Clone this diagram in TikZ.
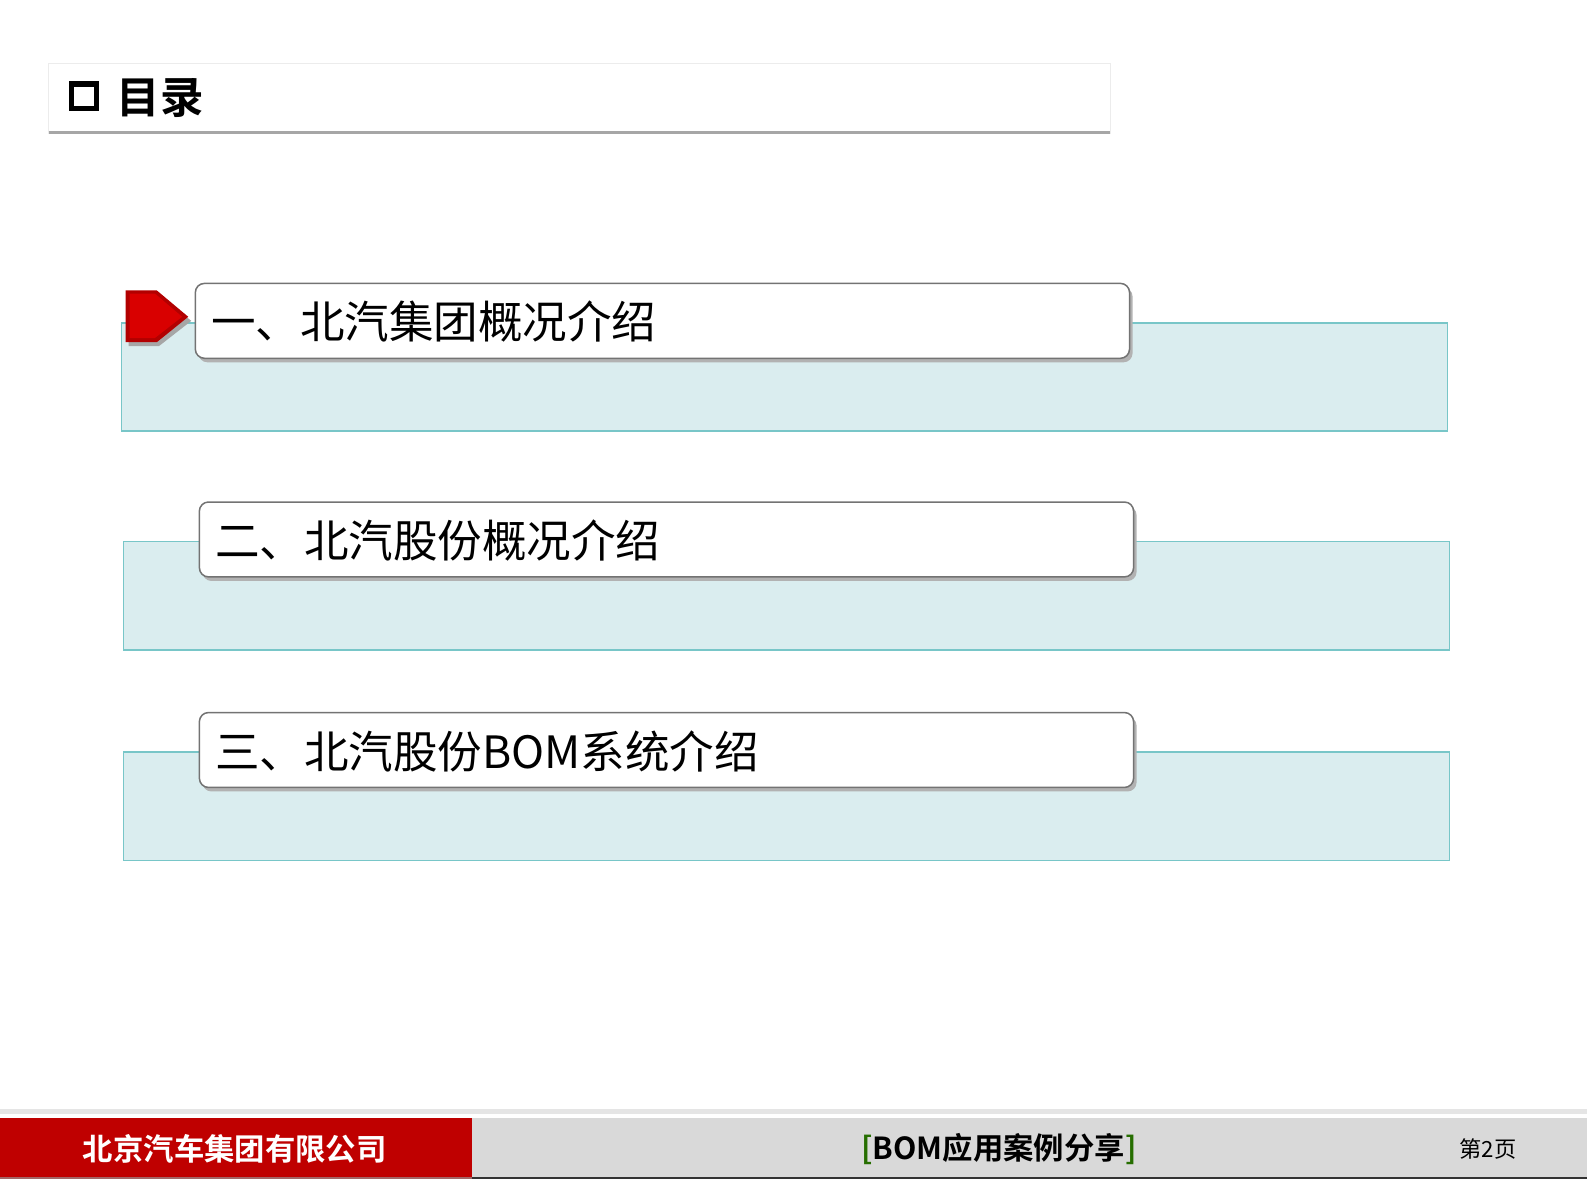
\documentclass[tikz,border=0pt]{standalone}
\usepackage{fontspec}
\setmainfont{Noto Sans CJK SC}
\newfontfamily\cjkb{Noto Sans CJK SC Bold}
\definecolor{tfill}{HTML}{DAEDEF}
\definecolor{tline}{HTML}{78C6C8}
\begin{document}
\begin{tikzpicture}[x=1pt,y=-1pt,
 tealbox/.style={draw=tline, line width=1.5pt, fill=tfill},
 wbox/.style={draw=gray!90!black, line width=1.5pt, fill=white, rounded corners=9pt},
 lbl/.style={anchor=west, font=\fontsize{44}{46}\selectfont}]
\useasboundingbox (0,0) rectangle (1568,1176);
% title
\fill[white] (48,62) rectangle (1097,132);
\draw[gray!15] (48,132) -- (48,62) -- (1097,62) -- (1097,132);
\draw[gray!70, line width=3pt] (48,131) -- (1097,131);
\draw[line width=5pt] (71,83) rectangle (95,107);
\node[anchor=west, font=\cjkb\fontsize{43}{46}\selectfont] (title) at (112,97) {目录};
% items
\foreach \tx/\ty/\wx/\wy/\t/\n in {120/319/193/280/一、北汽集团概况介绍/a, 122/535/197/496/二、北汽股份概况介绍/b, 122/743/197/704/三、北汽股份BOM系统介绍/c}{
 \draw[tealbox] (\tx,\ty) rectangle ++(1310,107);
 \fill[gray!60, rounded corners=9pt] (\wx+3,\wy+4) rectangle ++(923,74);
 \draw[wbox] (\wx,\wy) rectangle ++(923,74);
 \node[lbl] (\n) at (\wx+12,\wy+38) {\t};
}
% red arrow
\fill[black!35] (127,291) -- (157,291) -- (189,317) -- (157,342) -- (127,342) -- cycle;
\fill[red!70!black] (124,287) -- (155,287) -- (186,313) -- (155,338) -- (124,338) -- cycle;
\fill[red!85!black] (128,290) -- (153,290) -- (180,313) -- (153,334) -- (128,334) -- cycle;
% footer
\fill[gray!20] (0,1096) rectangle (1587,1101);
\fill[red!75!black] (0,1105) rectangle (466,1163);
\fill[gray!30] (466,1105) rectangle (1587,1163);
\draw[black!80, line width=2pt] (466,1164) -- (1587,1164);
\draw[red!40!black!60, line width=2pt] (0,1164) -- (466,1164);
\node[text=white, font=\cjkb\fontsize{30}{32}\selectfont] (co) at (232,1135) {北京汽车集团有限公司};
\node[font=\cjkb\fontsize{30}{32}\selectfont] (mid) at (987,1135) {\textcolor{green!40!black!70!olive}{[}BOM应用案例分享\textcolor{green!40!black!70!olive}{]}};
\node[font=\fontsize{22}{24}\selectfont] (pg) at (1470,1135) {第2页};
\end{tikzpicture}
\end{document}
